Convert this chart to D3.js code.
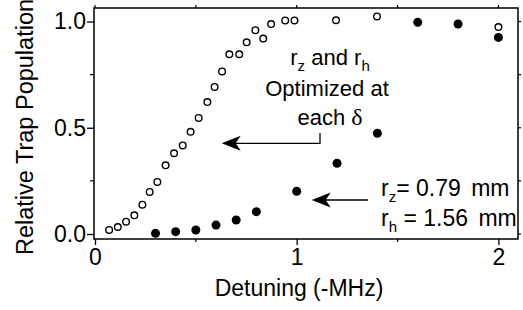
<!DOCTYPE html>
<html>
<head>
<meta charset="utf-8">
<script src="https://cdn.jsdelivr.net/npm/d3@7"></script>
<style>
  body { margin: 0; background: #fff; }
  svg text { font-family: "Liberation Sans", Arial, Helvetica, sans-serif; fill: #000; }
</style>
</head>
<body>
<svg id="chart" width="523" height="310"></svg>
<script>
// open circles (no optimisation)
let openX = [0.07, 0.113, 0.154, 0.195, 0.235, 0.271, 0.309, 0.35, 0.392, 0.435, 0.474, 0.514, 0.557,
    0.593, 0.63, 0.666, 0.715, 0.752, 0.795, 0.834, 0.873, 0.943, 0.989, 1.195, 1.398, 2.0];
let openY = [0.019, 0.033, 0.058, 0.088, 0.138, 0.198, 0.245, 0.323, 0.38, 0.417, 0.481, 0.546, 0.621,
    0.692, 0.765, 0.846, 0.846, 0.902, 0.959, 0.92, 0.988, 1.005, 1.005, 1.006, 1.024, 0.974];
// filled circles (fixed rz, rh)
let filledX = [0.3, 0.4, 0.5, 0.6, 0.7, 0.8, 1.0, 1.2, 1.4, 1.6, 1.8, 2.0];
let filledY = [0.003, 0.011, 0.019, 0.042, 0.066, 0.105, 0.201, 0.333, 0.474, 0.996, 0.988, 0.925];

let xTicks = [0, 1, 2];
let xMinor = [0.5, 1.5];
let yTicks = [0, 0.5, 1.0];
let yMinor = [0.25, 0.75];

let svg = d3.select('#chart');

let x = d3.scaleLinear().domain([0, 2]).range([95, 498.4]);
let y = d3.scaleLinear().domain([0, 1]).range([234, 21.5]);

let frame = {left: 94, right: 518, top: 8, bottom: 239};
let fontSize = 22;
let tickFont = 23;

// frame
svg.append('rect')
    .attr('x', frame.left).attr('y', frame.top)
    .attr('width', frame.right - frame.left).attr('height', frame.bottom - frame.top)
    .attr('fill', 'none').attr('stroke', '#000').attr('stroke-width', 1.5);

// left axis
let yAxis = svg.append('g')
    .attr('transform', `translate(${frame.left},0)`)
    .call(d3.axisLeft(y).tickValues(yTicks).tickFormat(d3.format('.1f')).tickSize(7).tickPadding(1).tickSizeOuter(0));
yAxis.select('.domain').remove();
yAxis.selectAll('text').style('font-size', tickFont + 'px');
yAxis.selectAll('line').attr('stroke-width', 1.3);

// bottom axis
let xAxis = svg.append('g')
    .attr('transform', `translate(0,${frame.bottom})`)
    .call(d3.axisBottom(x).tickValues(xTicks).tickFormat(d3.format('d')).tickSize(6).tickPadding(4).tickSizeOuter(0));
xAxis.select('.domain').remove();
xAxis.selectAll('text').style('font-size', tickFont + 'px');
xAxis.selectAll('line').attr('stroke-width', 1.3);

// minor ticks, plus small outer ticks on top and right
let tickG = svg.append('g').attr('stroke', '#000').attr('stroke-width', 1.2);
yMinor.forEach(v => {
    tickG.append('line').attr('x1', frame.left - 4).attr('x2', frame.left).attr('y1', y(v)).attr('y2', y(v));
});
xMinor.forEach(v => {
    tickG.append('line').attr('x1', x(v)).attr('x2', x(v)).attr('y1', frame.bottom).attr('y2', frame.bottom + 3);
});
yTicks.concat(yMinor).forEach(v => {
    tickG.append('line').attr('x1', frame.right).attr('x2', frame.right + 3).attr('y1', y(v)).attr('y2', y(v));
});
xTicks.concat(xMinor).forEach(v => {
    tickG.append('line').attr('x1', x(v)).attr('x2', x(v)).attr('y1', frame.top).attr('y2', frame.top - 3);
});

// axis titles
svg.append('text')
    .attr('transform', `translate(33,127) rotate(-90)`)
    .attr('text-anchor', 'middle')
    .style('font-size', '23.5px')
    .text('Relative Trap Population');

svg.append('text')
    .attr('x', 299).attr('y', 296)
    .attr('text-anchor', 'middle')
    .style('font-size', '23px')
    .text('Detuning (-MHz)');

// data
svg.append('g').selectAll('circle')
    .data(openX.map((d, i) => [d, openY[i]]))
    .enter().append('circle')
    .attr('cx', d => x(d[0])).attr('cy', d => y(d[1]))
    .attr('r', 3.3)
    .attr('fill', '#fff').attr('stroke', '#000').attr('stroke-width', 1.4);

svg.append('g').selectAll('circle')
    .data(filledX.map((d, i) => [d, filledY[i]]))
    .enter().append('circle')
    .attr('cx', d => x(d[0])).attr('cy', d => y(d[1]))
    .attr('r', 4.5)
    .attr('fill', '#000');

// annotations
function subText(g, xPos, yPos, parts, anchor, size) {
    size = size || fontSize;
    let t = g.append('text').attr('x', xPos).attr('y', yPos)
        .attr('text-anchor', anchor || 'start').style('font-size', size + 'px');
    let shift = 0;
    parts.forEach(p => {
        let sub = p[1];
        let dy = sub ? 6 - shift : -shift;
        shift = sub ? 6 : 0;
        t.append('tspan').attr('dy', dy).style('font-size', sub ? '15px' : size + 'px').text(p[0]);
    });
    return t;
}

let notes = svg.append('g');
subText(notes, 330, 65, [['r', false], ['z', true], [' and r', false], ['h', true]], 'middle');
notes.append('text').attr('x', 327).attr('y', 96).attr('text-anchor', 'middle')
    .style('font-size', fontSize + 'px').text('Optimized at');
let each = notes.append('text').attr('x', 330).attr('y', 125).attr('text-anchor', 'middle')
    .style('font-size', fontSize + 'px');
each.append('tspan').text('each ');
each.append('tspan').style('font-family', '"Liberation Serif", "Times New Roman", serif').style('font-size', '24px').text('\u03b4');

let rz = subText(notes, 381, 196, [['r', false], ['z', true], ['= 0.79', false]], 'start', 23);
rz.append('tspan').attr('dx', 4).text(' mm');
let rh = subText(notes, 381, 226, [['r', false], ['h', true], [' = 1.56', false]], 'start', 23);
rh.append('tspan').attr('dx', 4).text(' mm');

// arrows
function arrowHead(g, tipX, tipY) {
    g.append('path')
        .attr('d', `M${tipX},${tipY} L${tipX + 19},${tipY - 7.5} L${tipX + 14},${tipY} L${tipX + 19},${tipY + 7.5} Z`)
        .attr('fill', '#000');
}
let arrows = svg.append('g');
arrows.append('path')
    .attr('d', 'M230,143.3 L320,143.3 L320,133')
    .attr('fill', 'none').attr('stroke', '#000').attr('stroke-width', 1.3);
arrowHead(arrows, 221.7, 143.3);
arrows.append('path')
    .attr('d', 'M320,200 L368,200')
    .attr('fill', 'none').attr('stroke', '#000').attr('stroke-width', 1.3);
arrowHead(arrows, 311.7, 200);
</script>
</body>
</html>
